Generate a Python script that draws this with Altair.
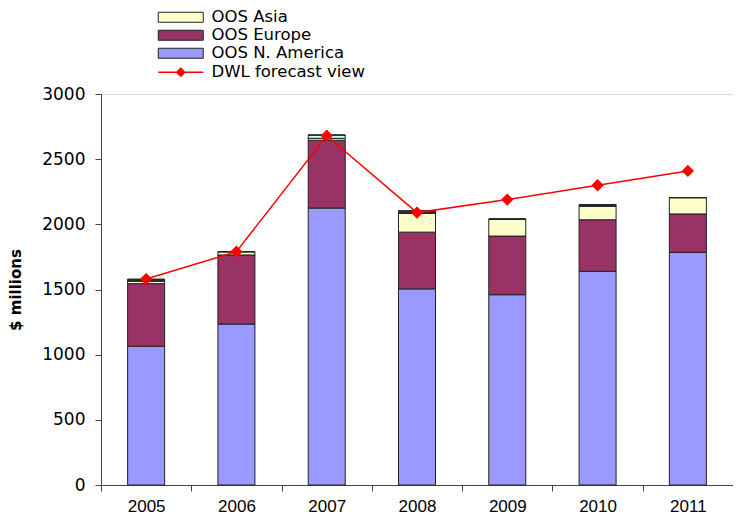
import altair as alt
import pandas as pd

years = ["2005", "2006", "2007", "2008", "2009", "2010", "2011"]
na = [1065, 1235, 2125, 1505, 1460, 1640, 1785]
europe = [480, 530, 520, 435, 450, 395, 295]
asia = [20, 25, 15, 145, 130, 105, 125]
other1 = [0, 0, 25, 0, 0, 0, 0]
other2 = [15, 0, 0, 20, 0, 12, 0]
forecast = [1580, 1790, 2680, 2090, 2190, 2300, 2410]

series_names = ["OOS N. America", "OOS Europe", "OOS Asia", "Other 1", "Other 2"]
series_vals = [na, europe, asia, other1, other2]
colors = ["#9999FF", "#993366", "#FFFFCC", "#CCFFFF", "#333333"]

rows = []
for k, (name, vals) in enumerate(zip(series_names, series_vals)):
    for y, v in zip(years, vals):
        rows.append({"year": y, "series": name, "value": v, "k": k})
bars_df = pd.DataFrame(rows)
line_df = pd.DataFrame({"year": years, "value": forecast, "name": "DWL forecast view"})

FONT = "Liberation Sans"
WIDE = "DejaVu Sans"

xenc = alt.X("year:N", title=None,
             scale=alt.Scale(paddingInner=0, paddingOuter=0),
             axis=alt.Axis(labelAngle=0, tickBand="extent", labelFontSize=17,
                           labelFont=FONT, labelColor="black", domainColor="#444",
                           tickColor="#444", tickSize=6, labelPadding=7))

rect_path = "M-4.5,-1H4.5V1H-4.5Z"
diamond_line = "M-4.5,-0.15H4.5V0.15H-4.5Z M0,-1L1,0L0,1L-1,0Z"

bars = alt.Chart(bars_df).mark_bar(
    width=alt.RelativeBandSize(0.41), stroke="#222", strokeWidth=1
).encode(
    x=xenc,
    y=alt.Y("value:Q", stack="zero", title="$ millions",
            scale=alt.Scale(domain=[0, 3000], nice=False),
            axis=alt.Axis(values=[0, 500, 1000, 1500, 2000, 2500, 3000], grid=False,
                          format="d",
                          labelFontSize=17, labelFont=WIDE, labelColor="black",
                          titleFont=WIDE, titleFontSize=15, titleFontWeight="bold",
                          titleColor="black", titlePadding=18, domainColor="#444",
                          tickColor="#444", tickSize=6, labelPadding=10)),
    fill=alt.Fill("series:N",
                  scale=alt.Scale(domain=series_names, range=colors),
                  legend=alt.Legend(values=["OOS Asia", "OOS Europe", "OOS N. America"],
                                    title=None, orient="none", legendX=71.5, legendY=-85,
                                    symbolType=rect_path, symbolSize=100,
                                    symbolStrokeColor="#222", symbolStrokeWidth=1,
                                    labelFontSize=16.5, labelFont=WIDE, labelColor="black",
                                    rowPadding=1, labelOffset=22.5, labelLimit=400)),
    order=alt.Order("k:Q", sort="ascending"),
)

line = alt.Chart(line_df).mark_line(
    strokeWidth=1.5,
    point=alt.OverlayMarkDef(shape="diamond", size=90, filled=True, color="#FF0000")
).encode(
    x=alt.X("year:N"),
    y=alt.Y("value:Q"),
    stroke=alt.Stroke("name:N", scale=alt.Scale(range=["#FF0000"]),
                      legend=alt.Legend(title=None, orient="none", legendX=71.5, legendY=-30,
                                        symbolType=diamond_line, symbolSize=100,
                                        symbolFillColor="#FF0000", symbolStrokeWidth=0,
                                        labelFontSize=16.5, labelFont=WIDE, labelColor="black",
                                        labelOffset=22.5, labelLimit=400)),
)

chart = alt.layer(bars, line).resolve_scale(fill="independent", stroke="independent").properties(
    width=632, height=391,
    autosize=alt.AutoSizeParams(type="none"),
    padding={"left": 93, "top": 86, "right": 0, "bottom": 30},
).configure_view(stroke=None).configure(background="white")

chart.save("out.html", embed_options={"renderer": "svg", "actions": False})
